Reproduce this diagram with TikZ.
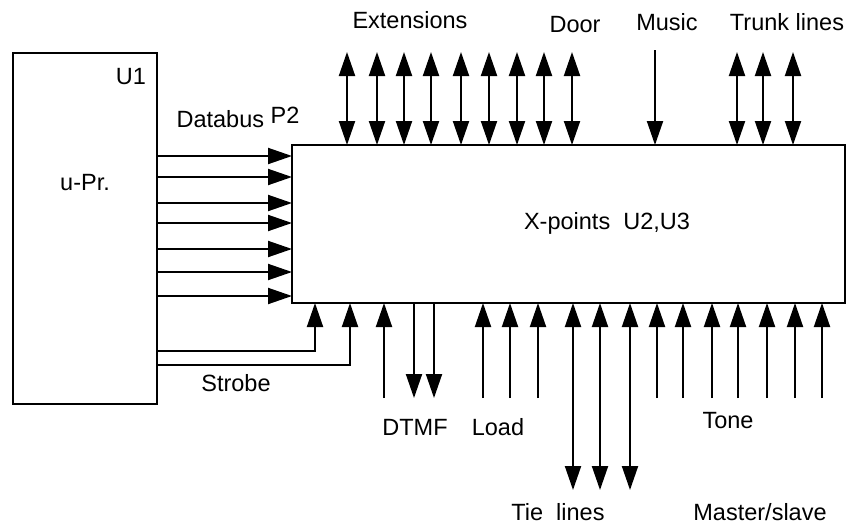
\documentclass[tikz,border=0pt]{standalone}
\usepackage{fontspec}
\setmainfont{Liberation Sans}
\usetikzlibrary{arrows.meta,calc}

\begin{document}
\begin{tikzpicture}[x=1pt,y=-1pt,
  font=\fontsize{23.5}{26}\selectfont,
  box/.style={draw,line width=2pt,inner sep=0pt,outer sep=0pt},
  lbl/.style={inner sep=0pt},
  arr/.style={line width=2pt,-{Triangle[length=24pt,width=16pt]}},
  darr/.style={line width=2pt,
               {Triangle[length=24pt,width=16pt]}-{Triangle[length=24pt,width=16pt]}}]

  \useasboundingbox (0,0) rectangle (848,528);

  % the two blocks
  \node[box,anchor=north west,minimum width=144pt,minimum height=351pt] (upr) at (13,53) {};
  \node[box,anchor=north west,minimum width=553pt,minimum height=158pt] (xp) at (292,145) {};

  \node[lbl] (u1)   at (131,77)  {U1};
  \node[lbl] (uprt) at (85,183)  {u-Pr.};
  \node[lbl] (xpt)  at (607,223) {X-points\ \ U2,U3};
  \node[lbl] (dbt)  at (238,117) {Databus \raisebox{4pt}{P2}};
  \node[lbl] (stbt) at (236,383) {Strobe};

  \node[lbl] (extt)  at (410,20)  {Extensions};
  \node[lbl] (doort) at (575,25)  {Door};
  \node[lbl] (must)  at (667,22)  {Music};
  \node[lbl] (trkt)  at (787,22)  {Trunk lines};
  \node[lbl] (dtmft) at (415,427) {DTMF};
  \node[lbl] (loadt) at (498,427) {Load};
  \node[lbl] (tonet) at (728,421) {Tone};
  \node[lbl] (tiet)  at (558,512) {Tie\ \ lines};
  \node[lbl] (mst)   at (760,512) {Master/slave};

  % databus
  \foreach \y [count=\i] in {156,177,203,223,249,272,296}
    {\coordinate (db\i) at (157,\y);
     \draw[arr] (upr.east |- db\i) -- (xp.west |- db\i);}

  % strobe
  \coordinate (stb1) at (315,351);
  \coordinate (stb2) at (350,365);
  \draw[arr] (upr.east |- stb1) -| (stb1 |- xp.south);
  \draw[arr] (upr.east |- stb2) -| (stb2 |- xp.south);

  % top side
  \foreach \x [count=\i] in {347,377,404,431,461,489,517,544,572}
    {\coordinate (ext\i) at (\x,52);
     \draw[darr] (ext\i) -- (ext\i |- xp.north);}
  \coordinate (mus) at (655,50);
  \draw[arr] (mus) -- (mus |- xp.north);
  \foreach \x [count=\i] in {737,763,793}
    {\coordinate (trk\i) at (\x,52);
     \draw[darr] (trk\i) -- (trk\i |- xp.north);}

  % bottom side
  \foreach \x [count=\i] in {384,483,510,538,657,683,712,738,767,795,822}
    {\coordinate (in\i) at (\x,398);
     \draw[arr] (in\i) -- (in\i |- xp.south);}
  \foreach \x [count=\i] in {414,434}
    {\coordinate (dtmf\i) at (\x,398);
     \draw[arr] (dtmf\i |- xp.south) -- (dtmf\i);}
  \foreach \x [count=\i] in {573,600,630}
    {\coordinate (tie\i) at (\x,490);
     \draw[darr] (tie\i |- xp.south) -- (tie\i);}
\end{tikzpicture}
\end{document}
